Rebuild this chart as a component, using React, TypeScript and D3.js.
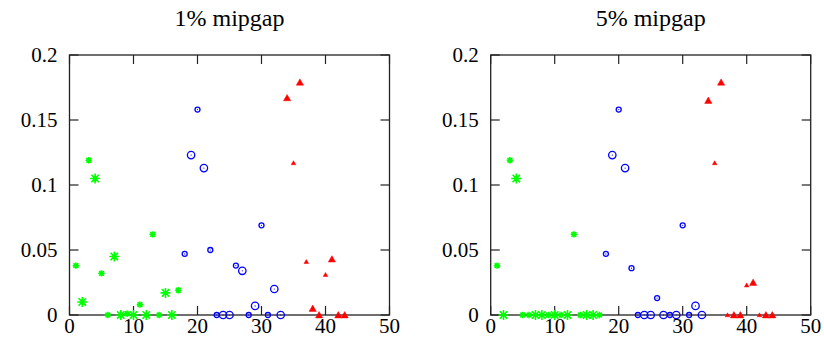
import React from "react";
import * as d3 from "d3";

// ---- data ----
const greenX = [1, 2, 3, 4, 5, 6, 7, 8, 9, 10, 11, 12, 13, 14, 15, 16, 17];
const greenSize = ["s", "l", "s", "l", "s", "s", "l", "l", "s", "l", "s", "l", "s", "s", "l", "l", "s"];
const greenGap1 = [0.038, 0.010, 0.119, 0.105, 0.032, 0, 0.045, 0, 0.001, 0, 0.008, 0, 0.062, 0, 0.017, 0, 0.019];
const greenGap5 = [0.038, 0, 0.119, 0.105, 0, 0, 0, 0, 0, 0, 0, 0, 0.062, 0, 0, 0, 0];

const blueX = [18, 19, 20, 21, 22, 23, 24, 25, 26, 27, 28, 29, 30, 31, 32, 33];
const blueSize = ["s", "l", "s", "l", "s", "s", "l", "l", "s", "l", "s", "l", "s", "s", "l", "l"];
const blueGap1 = [0.047, 0.123, 0.158, 0.113, 0.050, 0, 0, 0, 0.038, 0.034, 0, 0.007, 0.069, 0, 0.020, 0];
const blueGap5 = [0.047, 0.123, 0.158, 0.113, 0.036, 0, 0, 0, 0.013, 0, 0, 0, 0.069, 0, 0.007, 0];

const redX1 = [34, 35, 36, 37, 38, 39, 40, 41, 42, 43];
const redSize1 = ["l", "s", "l", "s", "l", "l", "s", "l", "l", "l"];
const redGap1 = [0.167, 0.117, 0.179, 0.041, 0.005, 0, 0.031, 0.043, 0, 0];

const redX5 = [34, 35, 36, 37, 38, 39, 40, 41, 42, 43, 44];
const redSize5 = ["l", "s", "l", "s", "l", "l", "s", "l", "s", "l", "l"];
const redGap5 = [0.165, 0.117, 0.179, 0, 0, 0, 0.023, 0.025, 0, 0, 0];

const xTicks = [0, 10, 20, 30, 40, 50];
const yTicks = [0, 0.05, 0.1, 0.15, 0.2];
const yTickLabels = ["0", "0.05", "0.1", "0.15", "0.2"];
const titles = ["1% mipgap", "5% mipgap"];

const FONT = "'Liberation Serif', 'Times New Roman', serif";

type Pt = { x: number; y: number; s: string };
const zip = (xs: number[], ys: number[], ss: string[]): Pt[] =>
  xs.map((x, i) => ({ x, y: ys[i], s: ss[i] }));

function Panel({ left, title, green, blue, red }: { left: number; title: string; green: Pt[]; blue: Pt[]; red: Pt[] }) {
  const x = d3.scaleLinear().domain([0, 50]).range([left, left + 320]);
  const y = d3.scaleLinear().domain([0, 0.2]).range([315, 55]);
  const [x0, x1] = x.range();
  const [y0, y1] = y.range();
  const tick = 9;
  const star = (cx: number, cy: number, r: number) => {
    const d = r * 0.75;
    return `M${cx - r},${cy}L${cx + r},${cy}M${cx},${cy - r}L${cx},${cy + r}M${cx - d},${cy - d}L${cx + d},${cy + d}M${cx - d},${cy + d}L${cx + d},${cy - d}`;
  };
  const tri = (cx: number, cy: number, r: number) =>
    `M${cx - r},${cy + r * 0.8}L${cx + r},${cy + r * 0.8}L${cx},${cy - r * 0.95}Z`;
  return (
    <g>
      <text x={(x0 + x1) / 2} y={26} textAnchor="middle" fontFamily={FONT} fontSize={24} fill="#000">
        {title}
      </text>
      {xTicks.map((t) => (
        <g key={"xt" + t}>
          <line x1={x(t)} x2={x(t)} y1={y0} y2={y0 - tick} stroke="#222" strokeWidth={1.2} />
          <line x1={x(t)} x2={x(t)} y1={y1} y2={y1 + tick} stroke="#222" strokeWidth={1.2} />
          <text x={x(t)} y={333} textAnchor="middle" fontFamily={FONT} fontSize={21} fill="#000">
            {t}
          </text>
        </g>
      ))}
      {yTicks.map((t, i) => (
        <g key={"yt" + t}>
          <line x1={x0} x2={x0 + tick} y1={y(t)} y2={y(t)} stroke="#222" strokeWidth={1.2} />
          <line x1={x1} x2={x1 - tick} y1={y(t)} y2={y(t)} stroke="#222" strokeWidth={1.2} />
          <text x={x0 - 12} y={y(t) + 7} textAnchor="end" fontFamily={FONT} fontSize={21} fill="#000">
            {yTickLabels[i]}
          </text>
        </g>
      ))}
      <rect x={x0} y={y1} width={x1 - x0} height={y0 - y1} fill="none" stroke="#222" strokeWidth={1.3} />
      {green.map((p, i) => (
        <path
          key={"g" + i}
          d={star(x(p.x), y(p.y), p.s === "l" ? 4.2 : 2.4)}
          stroke="#00ff00"
          strokeWidth={1.6}
          strokeLinecap="square"
          fill="none"
        />
      ))}
      {blue.map((p, i) => (
        <g key={"b" + i}>
          <circle cx={x(p.x)} cy={y(p.y)} r={p.s === "l" ? 3.7 : 2.5} fill="none" stroke="#0000ff" strokeWidth={1.3} />
          <circle cx={x(p.x)} cy={y(p.y)} r={0.6} fill="#0000ff" />
        </g>
      ))}
      {red.map((p, i) => (
        <path key={"r" + i} d={tri(x(p.x), y(p.y), p.s === "l" ? 3.6 : 2.3)} fill="#ff0000" stroke="#ff0000" strokeWidth={0.5} />
      ))}
    </g>
  );
}

export default function App() {
  return (
    <svg width={824} height={354} style={{ position: "absolute", left: 0, top: 0, background: "#fff" }}>
      <rect width={824} height={354} fill="#fff" />
      <Panel
        left={69.5}
        title={titles[0]}
        green={zip(greenX, greenGap1, greenSize)}
        blue={zip(blueX, blueGap1, blueSize)}
        red={zip(redX1, redGap1, redSize1)}
      />
      <Panel
        left={490.7}
        title={titles[1]}
        green={zip(greenX, greenGap5, greenSize)}
        blue={zip(blueX, blueGap5, blueSize)}
        red={zip(redX5, redGap5, redSize5)}
      />
    </svg>
  );
}
